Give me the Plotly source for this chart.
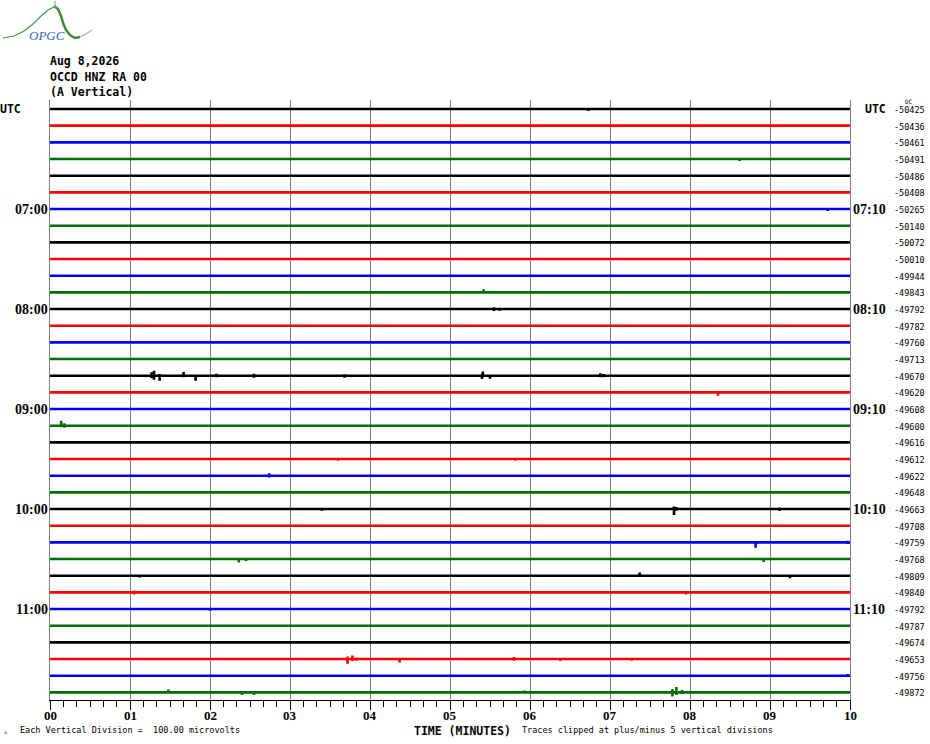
import plotly.graph_objects as go

# helicorder page: station header, hour rows, DC offsets
header_lines = ["Aug 8,2026", "OCCD HNZ RA 00", "(A Vertical)"]
left_labels = ["UTC", "07:00", "08:00", "09:00", "10:00", "11:00"]
right_labels = ["UTC", "07:10", "08:10", "09:10", "10:10", "11:10"]
minute_labels = ["00", "01", "02", "03", "04", "05", "06", "07", "08", "09", "10"]
dc_values = [
    -50425, -50436, -50461, -50491, -50486, -50408,
    -50265, -50140, -50072, -50010, -49944, -49843,
    -49792, -49782, -49760, -49713, -49670, -49620,
    -49608, -49600, -49616, -49612, -49622, -49648,
    -49663, -49708, -49759, -49768, -49809, -49840,
    -49792, -49787, -49674, -49653, -49756, -49872,
]

# visible spikes (row, minute, swing up, swing down; in divisions)
spike_row = [0, 3, 6, 11, 12, 12,
             16, 16, 16, 16, 16, 16, 16, 16, 16, 16, 16, 16, 16,
             17, 19, 19, 21, 21, 22,
             24, 24, 24, 24, 26, 26, 26, 27, 27, 27,
             28, 28, 28, 29, 29, 30,
             33, 33, 33, 33, 33, 33, 33, 34,
             35, 35, 35, 35, 35, 35, 35]
spike_min = [6.73, 8.62, 9.72, 5.42, 5.55, 5.62,
             1.27, 1.30, 1.37, 1.67, 1.82, 2.08, 2.55, 3.68, 5.40, 5.41, 5.50, 6.88, 6.92,
             8.35, 0.14, 0.18, 3.60, 5.82, 2.74,
             7.80, 7.83, 9.12, 3.40, 8.82, 9.97, 2.45, 2.36, 2.45, 8.92,
             7.37, 9.25, 1.12, 1.05, 7.95, 2.00,
             3.72, 3.78, 3.83, 4.37, 5.80, 6.38, 7.27, 9.97,
             7.78, 7.83, 7.90, 1.48, 2.40, 2.55, 5.93]
spike_up = [0.05, 0.02, 0.02, 0.18, 0.10, 0.08,
            0.20, 0.30, 0.10, 0.22, 0.05, 0.12, 0.12, 0.08, 0.10, 0.25, 0.05, 0.15, 0.10,
            0.03, 0.30, 0.15, 0.05, 0.05, 0.15,
            0.15, 0.12, 0.10, 0.05, 0.05, 0.10, 0.08, 0.05, 0.05, 0.05,
            0.20, 0.05, 0.05, 0.12, 0.02, 0.02,
            0.15, 0.22, 0.10, 0.03, 0.12, 0.03, 0.05, 0.10,
            0.20, 0.32, 0.15, 0.18, 0.05, 0.02, 0.12]
spike_down = [0.12, 0.12, 0.12, 0.03, 0.12, 0.10,
              0.15, 0.25, 0.30, 0.10, 0.30, 0.10, 0.12, 0.12, 0.20, 0.10, 0.18, 0.10, 0.10,
              0.20, 0.10, 0.12, 0.10, 0.10, 0.10,
              0.35, 0.10, 0.12, 0.10, 0.32, 0.10, 0.05, 0.20, 0.12, 0.18,
              0.05, 0.15, 0.10, 0.12, 0.12, 0.10,
              0.28, 0.12, 0.10, 0.20, 0.10, 0.12, 0.10, 0.05,
              0.25, 0.15, 0.10, 0.02, 0.15, 0.15, 0.05]

trace_colors = ["black", "red", "blue", "#006e00"]

W, H = 930, 744
L, R, T, B = 50, 80, 100, 44
PW, PH = W - L - R, H - T - B


def px(x, y):
    # pixel on page -> paper coords
    return (x - L) / PW, (T + PH - y) / PH


n_rows = len(dc_values)
fig = go.Figure()

for i in range(n_rows):
    xs, ys = [0], [i]
    hits = sorted((spike_min[k], spike_up[k], spike_down[k])
                  for k in range(len(spike_row)) if spike_row[k] == i)
    for t, up, dn in hits:
        xs += [t, t, t, t]
        ys += [i, i - up, i + dn, i]
    xs.append(10)
    ys.append(i)
    fig.add_trace(go.Scatter(
        x=xs, y=ys, mode="lines",
        line=dict(color=trace_colors[i % 4], width=2.6),
        hoverinfo="skip", showlegend=False
    ))

annotations = []
mono = "DejaVu Sans Mono"
serif = "Liberation Serif"
PAD = 2  # annotation inner padding, px

for j, txt in enumerate(header_lines):
    x, y = px(50 - PAD, 61 + j * 15.5)
    annotations.append(dict(x=x, y=y, xref="paper", yref="paper", text="<b>%s</b>" % txt,
                            showarrow=False, xanchor="left", yanchor="middle",
                            font=dict(family=mono, size=11.5, color="black")))

for j, txt in enumerate(left_labels):
    row = j * 6
    if txt == "UTC":
        x, anchor, fam, size = px(0 - PAD, 0)[0], "left", mono, 11.5
    else:
        x, anchor, fam, size = px(48 + PAD, 0)[0], "right", serif, 14
    annotations.append(dict(x=x, y=row, xref="paper", yref="y", text="<b>%s</b>" % txt,
                            showarrow=False, xanchor=anchor, yanchor="middle",
                            font=dict(family=fam, size=size, color="black")))

for j, txt in enumerate(right_labels):
    row = j * 6
    if txt == "UTC":
        x, fam, size = px(865 - PAD, 0)[0], mono, 11.5
    else:
        x, fam, size = px(853 - PAD, 0)[0], serif, 14
    annotations.append(dict(x=x, y=row, xref="paper", yref="y", text="<b>%s</b>" % txt,
                            showarrow=False, xanchor="left", yanchor="middle",
                            font=dict(family=fam, size=size, color="black")))

for i, v in enumerate(dc_values):
    annotations.append(dict(x=px(894 - PAD, 0)[0], y=i + 0.05, xref="paper", yref="y", text=str(v),
                            showarrow=False, xanchor="left", yanchor="middle",
                            font=dict(family=mono, size=8.5, color="black")))

x, y = px(905 - PAD, 101)
annotations.append(dict(x=x, y=y, xref="paper", yref="paper", text="DC", showarrow=False,
                        xanchor="left", yanchor="middle", font=dict(family=mono, size=6, color="black")))

# minute labels under the time axis
for m, txt in enumerate(minute_labels):
    annotations.append(dict(x=m, y=px(0, 715.5)[1], xref="x", yref="paper", text="<b>%s</b>" % txt,
                            showarrow=False, xanchor="center", yanchor="middle",
                            font=dict(family=serif, size=13, color="black")))

footer = [
    (20, 730, "Each Vertical Division =  100.00 microvolts", 8.5, False),
    (414, 730.5, "TIME (MINUTES)", 11.5, True),
    (522, 730, "Traces clipped at plus/minus 5 vertical divisions", 8.5, False),
]
for fx, fy, txt, size, bold in footer:
    x, y = px(fx - PAD, fy)
    annotations.append(dict(x=x, y=y, xref="paper", yref="paper",
                            text="<b>%s</b>" % txt if bold else txt,
                            showarrow=False, xanchor="left", yanchor="middle",
                            font=dict(family=mono, size=size, color="black")))

x, y = px(5, 731)
annotations.append(dict(x=x, y=y, xref="paper", yref="paper", text="ᴧ", showarrow=False,
                        xanchor="center", yanchor="middle", font=dict(family=mono, size=6, color="black")))

# OPGC logo
x, y = px(47, 36)
annotations.append(dict(x=x, y=y, xref="paper", yref="paper", text="<i>OPGC</i>", showarrow=False,
                        xanchor="center", yanchor="middle",
                        font=dict(family="Liberation Serif", size=13, color="#2f62c8")))


def path(points):
    pts = [px(a, b) for a, b in points]
    return "M" + " L".join("%.4f,%.4f" % p for p in pts)


shapes = [
    dict(type="path", xref="paper", yref="paper",
         path=path([(3, 38), (14, 36), (24, 31), (33, 24), (41, 16), (48, 10), (54, 7)]),
         line=dict(color="#3f9a3f", width=1.2)),
    dict(type="path", xref="paper", yref="paper",
         path=path([(54, 6), (58, 9), (61, 16), (63, 23), (66, 30), (70, 35), (75, 38), (80, 37)]),
         line=dict(color="#3d8c3d", width=2.5)),
    dict(type="path", xref="paper", yref="paper",
         path=path([(80, 37), (86, 34), (92, 30)]),
         line=dict(color="#8cc48c", width=1.2)),
    dict(type="path", xref="paper", yref="paper",
         path=path([(55, 1), (55, 8)]),
         line=dict(color="#6aa86a", width=1)),
]

fig.update_layout(
    width=W, height=H,
    margin=dict(l=L, r=R, t=T, b=B),
    plot_bgcolor="white", paper_bgcolor="white",
    showlegend=False,
    annotations=annotations,
    shapes=shapes,
    xaxis=dict(
        range=[0, 10], tickvals=list(range(11)), showticklabels=False,
        ticks="outside", ticklen=9, tickcolor="black", tickwidth=1,
        showgrid=True, gridcolor="#808080", gridwidth=1.3, zeroline=False,
        showline=True, linecolor="black", linewidth=1,
        minor=dict(dtick=1 / 6, ticks="outside", ticklen=6, tickcolor="black", showgrid=False),
        fixedrange=True,
    ),
    yaxis=dict(
        range=[n_rows - 0.544, -0.54], showticklabels=False, ticks="",
        showgrid=False, zeroline=False,
        showline=True, linecolor="#808080", linewidth=1.3, mirror=True,
        fixedrange=True,
    ),
)

fig.write_html("out.html", config={"displayModeBar": False},
               post_script="document.body.style.margin='0';")
